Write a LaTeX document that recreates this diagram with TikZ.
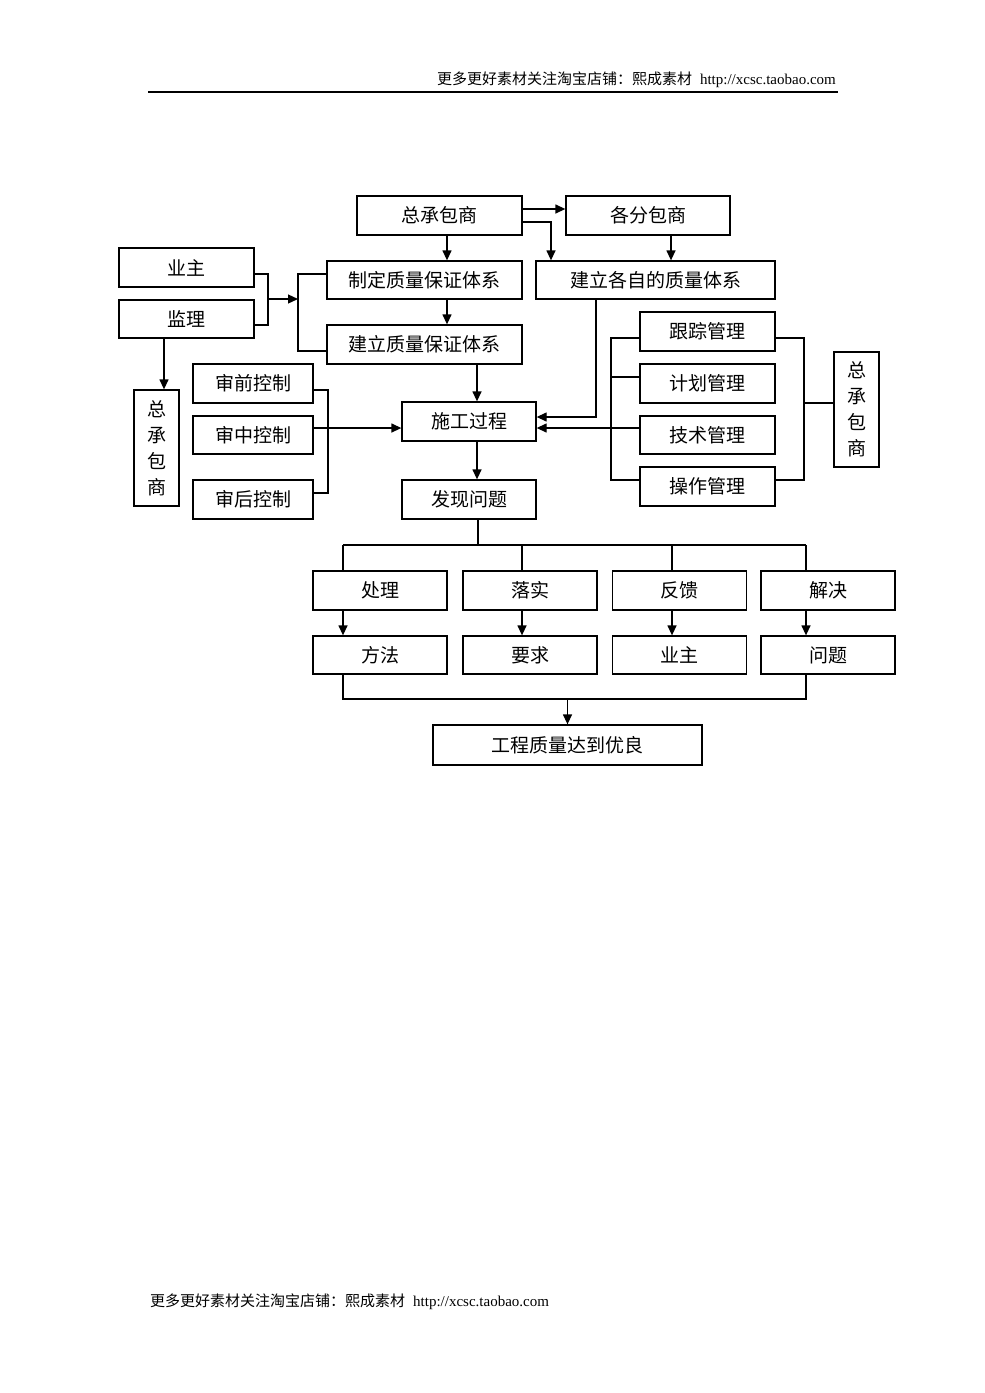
\documentclass[tikz,border=0pt]{standalone}
\usepackage{fontspec}
\setmainfont{Liberation Serif}
\newfontfamily\cjk{Noto Sans CJK SC}
\usetikzlibrary{arrows.meta}
\tikzset{
  box/.style={draw, line width=1.3pt, inner sep=0pt, font=\cjk\fontsize{19}{24}\selectfont},
  vbox/.style={box, align=center, font=\cjk\fontsize{19}{26}\selectfont},
  conn/.style={line width=1.3pt},
  arr/.style={conn, -{Triangle[length=10pt,width=9pt]}},
  hdr/.style={inner sep=0pt, font=\fontsize{15}{16}\selectfont}
}
\begin{document}
\begin{tikzpicture}[x=1pt,y=-1pt]
\path[use as bounding box, fill=white] (0,0) rectangle (985,1393);
% header and footer
\node[hdr, anchor=east] (hdrtext) at (836,80) {{\cjk 更多更好素材关注淘宝店铺：熙成素材}\hspace{8pt}http://xcsc.taobao.com};
\coordinate (hl1) at (148,92);
\coordinate (hl2) at (838,92);
\draw[line width=1.5pt] (hl1) -- (hl2);
\node[hdr, anchor=west] (ftrtext) at (150,1302) {{\cjk 更多更好素材关注淘宝店铺：熙成素材}\hspace{8pt}http://xcsc.taobao.com};

% nodes
\node[box, minimum width=165pt, minimum height=39pt] (zcb) at (439.5,215.5) {总承包商};
\node[box, minimum width=164pt, minimum height=39pt] (gfb) at (648,215.5) {各分包商};
\node[box, minimum width=135pt, minimum height=39pt] (yz) at (186.5,267.5) {业主};
\node[box, minimum width=135pt, minimum height=38pt] (jl) at (186.5,319) {监理};
\node[box, minimum width=195pt, minimum height=38pt] (zd) at (424.5,280) {制定质量保证体系};
\node[box, minimum width=195pt, minimum height=39pt] (jlbz) at (424.5,344.5) {建立质量保证体系};
\node[box, minimum width=239pt, minimum height=38pt] (gz) at (655.5,280) {建立各自的质量体系};
\node[box, minimum width=120pt, minimum height=39pt] (sq) at (253,383.5) {审前控制};
\node[box, minimum width=120pt, minimum height=38pt] (sz) at (253,435) {审中控制};
\node[box, minimum width=120pt, minimum height=39pt] (sh) at (253,499.5) {审后控制};
\node[vbox, minimum width=45pt, minimum height=116pt] (zcbL) at (156.5,448) {总\\承\\包\\商};
\node[box, minimum width=134pt, minimum height=39pt] (sg) at (469,421.5) {施工过程};
\node[box, minimum width=134pt, minimum height=39pt] (fx) at (469,499.5) {发现问题};
\node[box, minimum width=135pt, minimum height=39pt] (gzgl) at (707.5,331.5) {跟踪管理};
\node[box, minimum width=135pt, minimum height=39pt] (jh) at (707.5,383.5) {计划管理};
\node[box, minimum width=135pt, minimum height=38pt] (js) at (707.5,435) {技术管理};
\node[box, minimum width=135pt, minimum height=39pt] (cz) at (707.5,486.5) {操作管理};
\node[vbox, minimum width=45pt, minimum height=115pt] (zcbR) at (856.5,409.5) {总\\承\\包\\商};

\node[box, minimum width=134pt, minimum height=39pt] (r1a) at (380,590.5) {处理};
\node[box, minimum width=134pt, minimum height=39pt] (r1b) at (530,590.5) {落实};
\node[box, minimum width=134pt, minimum height=39pt] (r1c) at (679.5,590.5) {反馈};
\node[box, minimum width=134pt, minimum height=39pt] (r1d) at (828,590.5) {解决};
\node[box, minimum width=134pt, minimum height=38pt] (r2a) at (380,655) {方法};
\node[box, minimum width=134pt, minimum height=38pt] (r2b) at (530,655) {要求};
\node[box, minimum width=134pt, minimum height=38pt] (r2c) at (679.5,655) {业主};
\node[box, minimum width=134pt, minimum height=38pt] (r2d) at (828,655) {问题};
\node[box, minimum width=269pt, minimum height=40pt] (fin) at (567.5,745) {工程质量达到优良};

% top connectors
\draw[arr] ([yshift=6.5pt]zcb.east) -- ([yshift=6.5pt]gfb.west);
\draw[arr] ([yshift=-6.5pt]zcb.east) -| ([xshift=-104.5pt]gz.north);
\coordinate (gfs) at ([xshift=23pt]gfb.south);
\draw[arr] (gfs) -- (gfs |- gz.north);
\coordinate (zcs) at ([xshift=7.5pt]zcb.south);
\draw[arr] (zcs) -- (zcs |- zd.north);
\coordinate (zds) at ([xshift=22.5pt]zd.south);
\draw[arr] (zds) -- (zds |- jlbz.north);
\coordinate (jbs) at ([xshift=52.5pt]jlbz.south);
\draw[arr] (jbs) -- (jbs |- sg.north);
\coordinate (sgs) at ([xshift=8pt]sg.south);
\draw[arr] (sgs) -- (sgs |- fx.north);

% owner / supervisor bracket
\coordinate (b1) at (268,299);
\coordinate (b2) at (298,299);
\draw[conn] ([yshift=-6.5pt]yz.east) -| (b1) |- ([yshift=-6pt]jl.east);
\draw[arr] (b1) -- (b2);
\draw[conn] ([yshift=6pt]zd.west) -| (b2) |- ([yshift=-6.5pt]jlbz.west);
\coordinate (jls) at ([xshift=-22.5pt]jl.south);
\draw[arr] (jls) -- (jls |- zcbL.north);

% review controls
\coordinate (b3) at (328,440);
\draw[conn] ([yshift=-6.5pt]sq.east) -| (b3) |- ([yshift=6.5pt]sh.east);
\draw[arr] ([yshift=7pt]sz.east) -- ([yshift=-6.5pt]sg.west);

% right side
\draw[arr] ([xshift=-59.5pt]gz.south) |- ([yshift=4.5pt]sg.east);
\draw[arr] ([yshift=7pt]js.west) -- ([yshift=-6.5pt]sg.east);
\coordinate (b4) at (611,400);
\draw[conn] ([yshift=-6.5pt]gzgl.west) -| (b4) |- ([yshift=6.5pt]cz.west);
\coordinate (jhw) at ([yshift=6.5pt]jh.west);
\draw[conn] (jhw) -- (jhw -| b4);
\coordinate (b5) at (804,403);
\draw[conn] ([yshift=-6.5pt]gzgl.east) -| (b5) |- ([yshift=6.5pt]cz.east);
\draw[conn] (b5) -- (b5 -| zcbR.west);

% bottom tree
\coordinate (fxs) at ([xshift=9pt]fx.south);
\coordinate (t1) at (343,545);
\coordinate (t2) at (522,545);
\coordinate (t3) at (672,545);
\coordinate (t4) at (806,545);
\draw[conn] (fxs) -- (fxs |- t1);
\draw[conn] (t1) -- (t4);
\draw[conn] (t1) -- (t1 |- r1a.north);
\draw[conn] (t2) -- (t2 |- r1b.north);
\draw[conn] (t3) -- (t3 |- r1c.north);
\draw[conn] (t4) -- (t4 |- r1d.north);
\draw[arr] (t1 |- r1a.south) -- (t1 |- r2a.north);
\draw[arr] (t2 |- r1b.south) -- (t2 |- r2b.north);
\draw[arr] (t3 |- r1c.south) -- (t3 |- r2c.north);
\draw[arr] (t4 |- r1d.south) -- (t4 |- r2d.north);
\coordinate (u1) at (343,699);
\coordinate (u4) at (806,699);
\draw[conn] (t1 |- r2a.south) -- (u1) -- (u4) -- (t4 |- r2d.south);
\draw[arr] (fin.north |- u1) -- (fin.north);
\end{tikzpicture}
\end{document}
